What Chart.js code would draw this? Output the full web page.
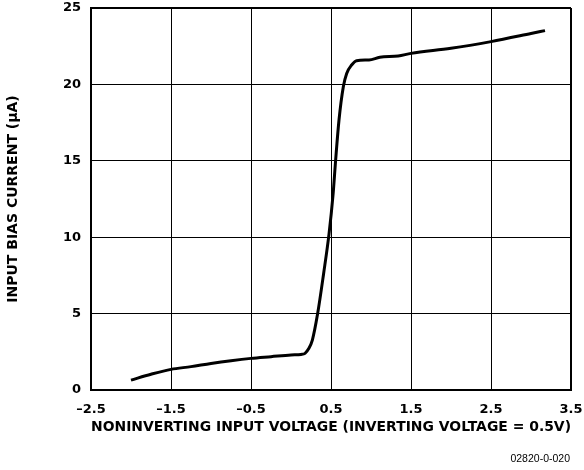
<!DOCTYPE html>
<html>
<head>
<meta charset="utf-8">
<script src="https://cdn.jsdelivr.net/npm/chart.js@4/dist/chart.umd.min.js"></script>
<style>
  body { margin: 0; background: #fff; }
  #caja { position: relative; width: 584px; height: 470px; }
  #codigo { position: absolute; right: 14px; top: 452px; font: 10.5px "Liberation Sans", Arial, sans-serif; color: #000; }
</style>
</head>
<body>
<div id="caja">
  <canvas id="grafico_bias"></canvas>
  <div id="codigo">02820-0-020</div>
</div>
<script>
// valores
const voltaje = [-2.0, -1.75, -1.5, -1.25, -1.0, -0.75, -0.5, -0.25, 0.0, 0.125, 0.175, 0.22, 0.267, 0.333, 0.408, 0.475, 0.525, 0.558, 0.6, 0.654, 0.696, 0.758, 0.82, 0.975, 1.11, 1.34, 1.5, 2.0, 2.5, 3.0, 3.175]
const corriente = [0.65, 1.03, 1.35, 1.53, 1.74, 1.92, 2.07, 2.18, 2.29, 2.33, 2.4, 2.7, 3.27, 5.0, 7.63, 10.2, 12.75, 15.05, 17.67, 19.85, 20.72, 21.27, 21.55, 21.6, 21.77, 21.86, 22.03, 22.36, 22.8, 23.33, 23.52]
const ticksX = [-2.5, -1.5, -0.5, 0.5, 1.5, 2.5, 3.5]
const ticksY = [0, 5, 10, 15, 20, 25]

const fuente = { family: '"DejaVu Sans", sans-serif', size: 13, weight: 'bold' }
const fuenteTitulo = { family: '"DejaVu Sans", sans-serif', size: 14, weight: 'bold' }

graficoCorriente('grafico_bias')

function graficoCorriente(id) {
    const ctx = document.getElementById(id).getContext('2d')

    const puntos = voltaje.map((v, i) => ({ x: v, y: corriente[i] }))

    const data = {
        datasets: [{
            data: puntos,
            showLine: true,
            borderColor: '#000',
            borderWidth: 3,
            pointRadius: 0,
            cubicInterpolationMode: 'monotone'
        }]
    }

    // grosor: bordes del recuadro mas gruesos
    const ancho = (c, n) => (c.index === 0 || c.index === n - 1) ? 2 : 1

    const options = {
        responsive: true,
        maintainAspectRatio: false,
        animation: false,
        layout: { padding: { left: 0, top: 8, right: 13, bottom: 0 } },
        plugins: {
            legend: { display: false },
            tooltip: { enabled: false }
        },
        scales: {
            x: {
                type: 'linear',
                min: -2.5,
                max: 3.5,
                afterBuildTicks: s => { s.ticks = ticksX.map(v => ({ value: v })) },
                afterFit: s => { s.height = 80; s.paddingRight = 0; s.paddingLeft = 0 },
                grid: { color: '#000', lineWidth: c => ancho(c, ticksX.length), drawTicks: false },
                border: { display: true, color: '#000', width: 2 },
                ticks: {
                    color: '#000',
                    font: fuente,
                    padding: 12,
                    maxRotation: 0,
                    autoSkip: false,
                    callback: v => String(v).replace('-', '\u2013')
                },
                title: {
                    display: true,
                    text: 'NONINVERTING INPUT VOLTAGE (INVERTING VOLTAGE = 0.5V)',
                    color: '#000',
                    font: fuenteTitulo,
                    padding: { top: 0, bottom: 34 }
                }
            },
            y: {
                min: 0,
                max: 25,
                afterBuildTicks: s => { s.ticks = ticksY.map(v => ({ value: v })) },
                afterFit: s => { s.width = 91; s.paddingTop = 0; s.paddingBottom = 0 },
                grid: { color: '#000', lineWidth: c => ancho(c, ticksY.length), drawTicks: false },
                border: { display: true, color: '#000', width: 2 },
                ticks: { color: '#000', font: fuente, padding: 10 },
                title: {
                    display: true,
                    text: 'INPUT BIAS CURRENT (\u00b5A)',
                    color: '#000',
                    font: fuenteTitulo,
                    padding: { top: 5, bottom: 0 }
                }
            }
        }
    }

    new Chart(ctx, { type: 'scatter', data, options })
}
</script>
</body>
</html>
